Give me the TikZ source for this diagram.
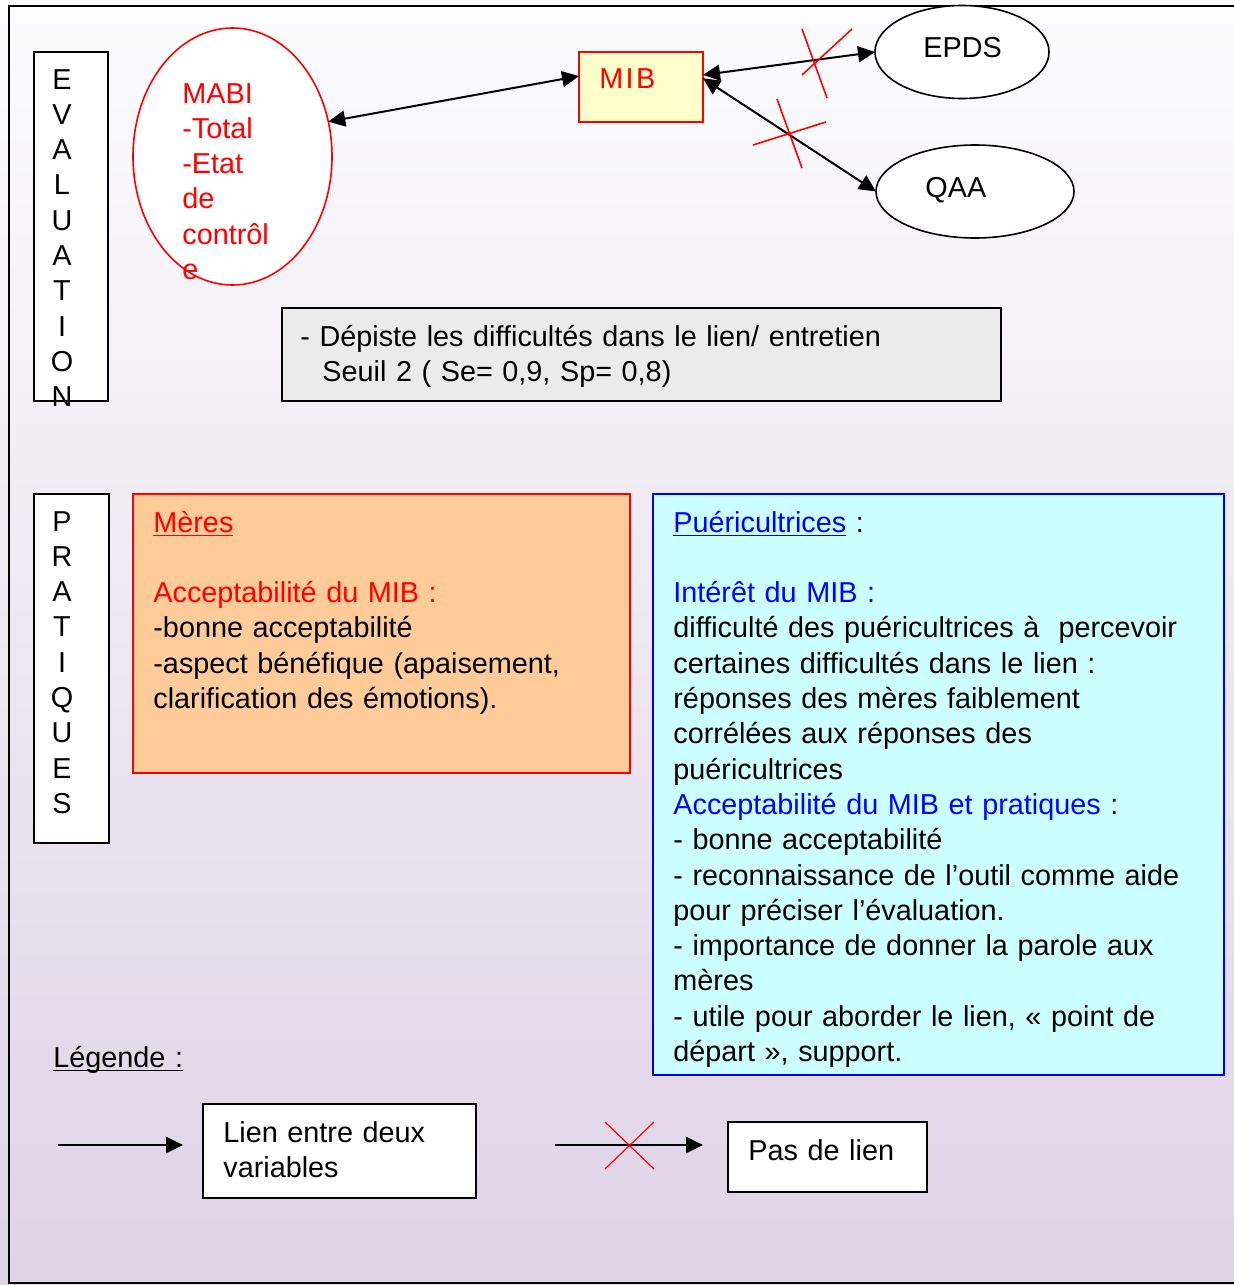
\documentclass[tikz,border=0pt]{standalone}
\usepackage{fontspec}
\setmainfont{Liberation Sans}
\newfontfamily\mibfont[LetterSpace=8]{Liberation Sans}
\newcommand\ulin[1]{\setbox0\hbox{#1}\rlap{\rule[-2.2pt]{\wd0}{0.9pt}}\box0}
\usetikzlibrary{arrows.meta,shapes.geometric}
\definecolor{mibyellow}{HTML}{FFFFCC}
\definecolor{meresorange}{HTML}{FFCC99}
\definecolor{puercyan}{HTML}{CCFFFF}
\definecolor{depgray}{HTML}{EBEBEB}
\definecolor{bgtop}{HTML}{FCFCFD}
\definecolor{bgbottom}{HTML}{DFD3E6}

\begin{document}
\begin{tikzpicture}[x=0.5pt, y=-0.5pt,
  font=\fontsize{14.4}{17.65}\selectfont,
  >={Triangle[length=8.5pt,width=8pt]},
  BOX/.style={rectangle, draw, line width=1pt, inner sep=0pt, outer sep=0pt},
  OVAL/.style={ellipse, draw, line width=0.8pt, fill=white, inner sep=0pt, outer sep=0pt},
  TXT/.style={anchor=base west, inner sep=0pt, text width=#1, align=left},
  STACK/.style={anchor=base, inner sep=0pt, text width=20pt, align=center},
  LINK/.style={line width=1pt},
  CROSS/.style={red, line width=0.8pt},]

%Background
\shade[top color=bgtop, bottom color=bgbottom] (0,0) rectangle (1234,1285);
\useasboundingbox (0,0) rectangle (1234,1285);
\draw[line width=1pt] (1234,6) -- (8.5,6) -- (8.5,1283) -- (1234,1283);

%Nodes
\node[BOX, fill=white, minimum width=37pt, minimum height=174.5pt] (evalbox) at (71,226.5) {};
\node[STACK] (evaltxt) at (62,89) {E\\V\\A\\L\\U\\A\\T\\I\\O\\N};

\node[OVAL, draw=red, minimum width=99.5pt, minimum height=128.5pt] (mabi) at (232.5,156.5) {};
\node[TXT=80pt, red] (mabitxt) at (182,103) {MABI\\-Total\\-Etat\\de\\contrôl\\e};

\node[BOX, draw=red, fill=mibyellow, minimum width=62pt, minimum height=35pt] (mib) at (641,87) {};
\node[TXT=40pt, red] (mibtxt) at (599,88) {\mibfont MIB};

\node[OVAL, minimum width=87pt, minimum height=46.5pt] (epds) at (962,52) {};
\node[TXT=40pt] (epdstxt) at (923,57) {EPDS};
\node[OVAL, minimum width=99pt, minimum height=46.5pt] (qaa) at (975,191.5) {};
\node[TXT=40pt] (qaatxt) at (925,197) {QAA};

\node[BOX, fill=depgray, minimum width=359.5pt, minimum height=46.5pt] (depiste) at (641.5,354.5) {};
\node[TXT=350pt] (depistetxt) at (300,346) {- Dépiste les difficultés dans le lien/ entretien\\\hspace*{11pt}Seuil 2 ( Se= 0,9, Sp= 0,8)};

\node[BOX, fill=white, minimum width=37.5pt, minimum height=174.5pt] (pratbox) at (71.5,668.5) {};
\node[STACK] (prattxt) at (62,531) {P\\R\\A\\T\\I\\Q\\U\\E\\S};

\node[BOX, draw=red, fill=meresorange, minimum width=248.5pt, minimum height=139.5pt] (meres) at (381.5,633.5) {};
\node[TXT=235pt] (merestxt) at (153,532) {\textcolor{red}{\ulin{Mères}}\\[17.65pt]\textcolor{red}{Acceptabilité du MIB :}\\-bonne acceptabilité\\-aspect bénéfique (apaisement,\\clarification des émotions).};

\node[BOX, draw=blue, fill=puercyan, minimum width=285.5pt, minimum height=290.5pt] (puer) at (938.5,784.5) {};
\node[TXT=275pt] (puertxt) at (673,532) {\textcolor{blue}{\ulin{Puéricultrices}} :\\[17.65pt]\textcolor{blue}{Intérêt du MIB :}\\difficulté des puéricultrices à~ percevoir\\certaines difficultés dans le lien :\\réponses des mères faiblement\\corrélées aux réponses des\\puéricultrices\\\textcolor{blue}{Acceptabilité du MIB et pratiques :}\\- bonne acceptabilité\\- reconnaissance de l’outil comme aide\\pour préciser l’évaluation.\\- importance de donner la parole aux\\mères\\- utile pour aborder le lien, «~point de\\départ~», support.};

\node[TXT=80pt] (legende) at (53,1067) {\ulin{Légende :}};
\coordinate (l1a) at (58,1145);
\coordinate (l1b) at (183,1145);
\node[BOX, fill=white, minimum width=136.5pt, minimum height=47pt] (lien) at (339.5,1151) {};
\node[TXT=120pt] (lientxt) at (223,1142) {Lien entre deux\\variables};
\coordinate (l2a) at (555,1145);
\coordinate (l2b) at (703,1145);
\node[BOX, fill=white, minimum width=99.5pt, minimum height=35pt] (paslien) at (827.5,1157) {};
\node[TXT=80pt] (paslientxt) at (748,1160) {Pas de lien};

%Lines
\draw[LINK, <->] (mabi.20) -- (mib.170);
\draw[LINK, <->] (mib.11) -- (epds.west);
\draw[LINK, <->] (mib.8) -- (qaa.west);
\draw[CROSS] (802,29) -- (827,98);
\draw[CROSS] (802,75) -- (852,29);
\draw[CROSS] (777,99) -- (802,168);
\draw[CROSS] (753,145) -- (826,122);

\draw[LINK, ->, line width=1.3pt] (l1a) -- (l1b);
\draw[LINK, ->, line width=1.3pt] (l2a) -- (l2b);
\draw[CROSS, line width=0.6pt] (605,1122) -- (654,1169);
\draw[CROSS, line width=0.6pt] (654,1122) -- (605,1169);

\end{tikzpicture}
\end{document}
